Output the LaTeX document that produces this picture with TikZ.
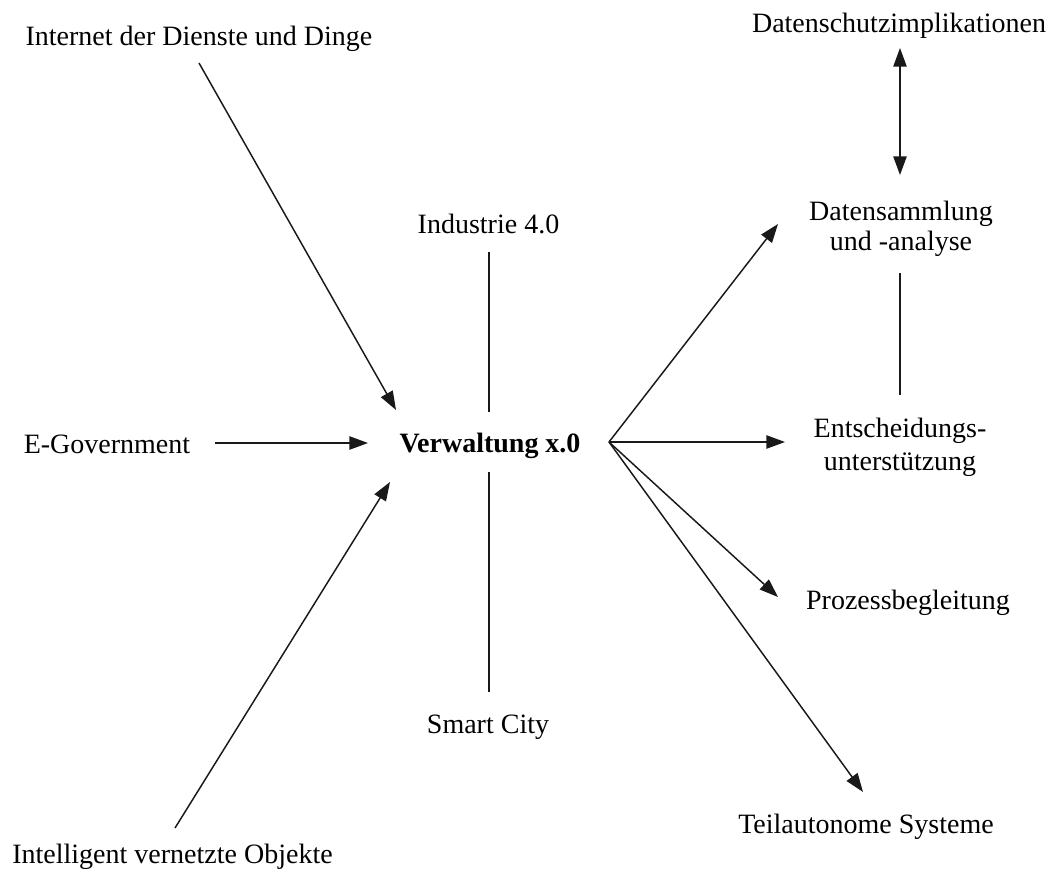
\documentclass[tikz,border=0pt]{standalone}
\usepackage{fontspec}
\setmainfont{Liberation Serif}
\usetikzlibrary{arrows.meta}
\begin{document}
\begin{tikzpicture}[x=0.75pt,y=-0.75pt,
  lbl/.style={inner sep=0pt,font=\fontsize{21}{24}\selectfont},
  lblb/.style={lbl,anchor=base},
  conn/.style={line width=1.1pt,black!90},
  arr/.style={conn,-{Triangle[length=14pt,width=10pt]}},
  darr/.style={conn,{Triangle[length=14pt,width=10pt]}-{Triangle[length=14pt,width=10pt]}}]
\useasboundingbox[fill=white] (0,0) rectangle (1057,875);

% labels
\node[lblb] (inet) at (199,45) {Internet der Dienste und Dinge};
\node[lblb] (dsi) at (899,32) {Datenschutzimplikationen};
\node[lblb] (ind) at (488.5,233) {Industrie 4.0};
\node[lblb] (egov) at (107,453) {E-Government};
\node[lblb,font=\fontsize{21}{24}\selectfont\bfseries] (verw) at (490,452) {Verwaltung x.0};
\node[lblb] (proz) at (908,609) {Prozessbegleitung};
\node[lblb] (smart) at (488,733) {Smart City};
\node[lblb] (teil) at (866,833) {Teilautonome Systeme};
\node[lblb] (intel) at (172.5,863) {Intelligent vernetzte Objekte};
\node[lbl,align=center,font=\fontsize{21}{22.5}\selectfont] (dsa) at (901,228.5) {Datensammlung\\und -analyse};
\node[lbl,align=center,font=\fontsize{21}{24.5}\selectfont] (ent) at (900,447) {Entscheidungs-\\unterst\"utzung};

% connector end points
\coordinate (inetS) at (199,63);
\coordinate (vIn1) at (396,410);
\coordinate (egovE) at (215,443);
\coordinate (vIn2) at (368,443);
\coordinate (intelN) at (175,828);
\coordinate (vIn3) at (390,482);
\coordinate (indS) at (489,252);
\coordinate (vTop) at (489,412);
\coordinate (vBot) at (489,472);
\coordinate (smartN) at (489,692);
\coordinate (hub) at (609,442);
\coordinate (dsaW) at (778,224);
\coordinate (entW) at (785,442);
\coordinate (prozW) at (778,597);
\coordinate (teilN) at (863,792);
\coordinate (dsiS) at (900,48);
\coordinate (dsaN) at (900,175);
\coordinate (dsaS) at (900,273);
\coordinate (entN) at (900,395);

% connectors
\draw[arr] (inetS) -- (vIn1);
\draw[arr] (egovE) -- (vIn2);
\draw[arr] (intelN) -- (vIn3);
\draw[conn] (indS) -- (vTop);
\draw[conn] (vBot) -- (smartN);
\draw[arr] (hub) -- (dsaW);
\draw[arr] (hub) -- (entW);
\draw[arr] (hub) -- (prozW);
\draw[arr] (hub) -- (teilN);
\draw[darr] (dsiS) -- (dsaN);
\draw[conn] (dsaS) -- (entN);
\end{tikzpicture}
\end{document}
